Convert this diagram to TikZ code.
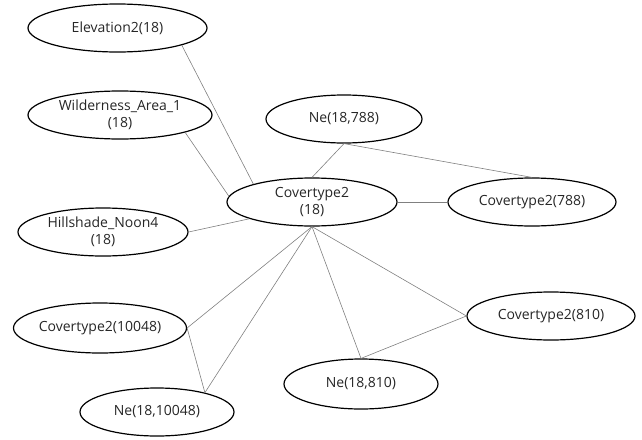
\documentclass[tikz,border=0pt]{standalone}
\usepackage{fontspec}
\setmainfont{Open Sans}
\usetikzlibrary{shapes.geometric}

\tikzset{
  ent/.style={ellipse, draw=black, line width=1.2pt, inner sep=0pt,
    align=center, font=\fontsize{14}{17}\selectfont, text=black!85},
  link/.style={draw=black!50, line width=0.6pt},
}
\newcommand{\ent}[5]{% name, x, y, rx, ry ... text given after
  \node[ent, minimum width=#4*2pt, minimum height=#5*2pt] (#1) at (#2,#3)}

\begin{document}
\begin{tikzpicture}[x=1pt, y=-1pt]
  \useasboundingbox (0,0) rectangle (642,439);

  \ent{elev}{117.5}{28}{89.5}{24} {Elevation2(18)};
  \ent{wild}{120}{115}{92}{24} {Wilderness\_Area\_1\\(18)};
  \ent{hill}{103}{232}{85}{24} {Hillshade\_Noon4\\(18)};
  \ent{cov}{312}{202}{85}{24} {Covertype2\\(18)};
  \ent{ne788}{344}{119}{78}{24} {Ne(18,788)};
  \ent{cov788}{532}{202}{84}{24} {Covertype2(788)};
  \ent{cov10048}{100}{328}{85}{25} {Covertype2(10048)};
  \ent{ne10048}{157}{412}{77}{24} {Ne(18,10048)};
  \ent{cov810}{551}{316}{84}{24} {Covertype2(810)};
  \ent{ne810}{361}{384}{77}{25} {Ne(18,810)};

  \draw[link] (elev.-15) -- (cov.163);
  \draw[link] (wild.-15) -- (cov.176);
  \draw[link] (hill.east) -- (cov.195);
  \draw[link] (ne788.south) -- (cov.north);
  \draw[link] (ne788.south) -- (cov788.north);
  \draw[link] (cov.east) -- (cov788.west);
  \draw[link] (cov.south) -- (cov10048.east);
  \draw[link] (cov.south) -- (ne10048.22);
  \draw[link] (cov10048.east) -- (ne10048.22);
  \draw[link] (cov.south) -- (ne810.north);
  \draw[link] (cov.south) -- (cov810.west);
  \draw[link] (ne810.north) -- (cov810.west);
\end{tikzpicture}
\end{document}
